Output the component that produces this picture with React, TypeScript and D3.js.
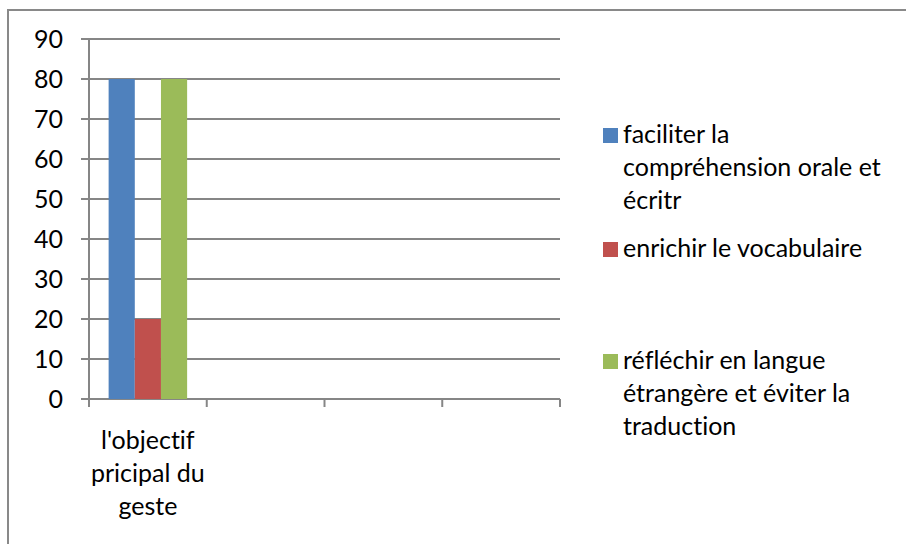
import React from 'react';
import * as d3 from 'd3';

// categories (only the first one carries data / a label)
const categories = ["l'objectif\npricipal du\ngeste", "", "", ""];
const seriesNames = [
    "faciliter la\ncompréhension orale et\nécritr",
    "enrichir le vocabulaire",
    "réfléchir en langue\nétrangère et éviter la\ntraduction",
];
const seriesColors = ["#4f81bd", "#c0504d", "#9bbb59"];
// one value per category, per series
const faciliter = [80, null, null, null];
const enrichir = [20, null, null, null];
const reflechir = [80, null, null, null];
const yTicks = [0, 10, 20, 30, 40, 50, 60, 70, 80, 90];

const W = 906;
const H = 544;
const FONT = "Lato, Calibri, 'Liberation Sans', sans-serif";
const GRAY = "#868686";
const FS = 25;

export default function App() {
    const series = [faciliter, enrichir, reflechir];
    const plot = { left: 89, right: 560, top: 39, bottom: 399 };

    const x = d3.scaleBand<number>()
        .domain(categories.map((_, i) => i))
        .range([plot.left, plot.right])
        .paddingInner(0)
        .paddingOuter(0);
    // Excel style gap width 150%: bars take 3/(3+1.5) of a category
    const groupW = x.bandwidth() * 3 / 4.5;
    const xs = d3.scaleBand<number>()
        .domain(series.map((_, i) => i))
        .range([0, groupW]);
    const y = d3.scaleLinear().domain([0, 90]).range([plot.bottom, plot.top]);

    const legendX = 603;
    const legendRows = [128, 242, 354];
    const lineH = 33;

    return (
        <div style={{ position: 'fixed', left: 0, top: 0 }}>
            <svg width={W} height={H} style={{ display: 'block', background: '#fff', fontVariantLigatures: 'none' }} fontFamily={FONT}>
                {/* chart border */}
                <rect x={8} y={10} width={W + 10} height={H + 10} fill="#fff" stroke="#898989" strokeWidth={2} />

                {/* gridlines + y ticks */}
                {yTicks.map(t => (
                    <g key={t}>
                        <line x1={plot.left - 8} x2={plot.right} y1={y(t)} y2={y(t)} stroke={GRAY} strokeWidth={2} />
                        <text x={63} y={y(t)} dy="0.35em" textAnchor="end" fontSize={FS} fill="#000">{t}</text>
                    </g>
                ))}

                {/* y axis */}
                <line x1={plot.left} x2={plot.left} y1={plot.top} y2={plot.bottom} stroke={GRAY} strokeWidth={2} />

                {/* category ticks */}
                {[...categories.map((_, i) => x(i)!), plot.right].map((v, i) => (
                    <line key={i} x1={v} x2={v} y1={plot.bottom} y2={plot.bottom + 8} stroke={GRAY} strokeWidth={2} />
                ))}

                {/* bars */}
                {series.map((vals, si) => vals.map((v, ci) => v == null ? null : (
                    <rect key={`${si}-${ci}`}
                        x={x(ci)! + (x.bandwidth() - groupW) / 2 + xs(si)!}
                        y={y(v)}
                        width={xs.bandwidth()}
                        height={y(0) - y(v)}
                        fill={seriesColors[si]} />
                )))}

                {/* category labels */}
                {categories.map((c, i) => (
                    <text key={i} textAnchor="middle" fontSize={FS} fill="#000">
                        {c.split("\n").map((ln, j) => (
                            <tspan key={j} x={x(i)! + x.bandwidth() / 2} y={449 + j * 33}>{ln}</tspan>
                        ))}
                    </text>
                ))}

                {/* legend */}
                {seriesNames.map((name, i) => (
                    <g key={i}>
                        <rect x={legendX} y={legendRows[i]} width={15} height={15} fill={seriesColors[i]} />
                        <text fontSize={FS} fill="#000">
                            {name.split("\n").map((ln, j) => (
                                <tspan key={j} x={legendX + 20} y={legendRows[i] + 15 + j * lineH}>{ln}</tspan>
                            ))}
                        </text>
                    </g>
                ))}
            </svg>
        </div>
    );
}
